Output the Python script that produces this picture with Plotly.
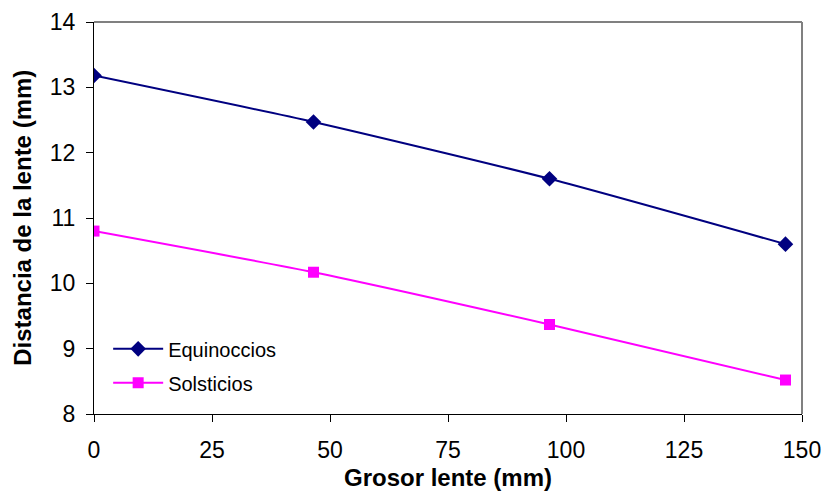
import plotly.graph_objects as go

grosor = [0, 46.5, 96.5, 146.5]
equinoccios = [13.18, 12.47, 11.60, 10.60]
solsticios = [10.80, 10.17, 9.37, 8.52]
x_ticks = [0, 25, 50, 75, 100, 125, 150]
y_ticks = [8, 9, 10, 11, 12, 13, 14]

fig = go.Figure()
fig.add_trace(go.Scatter(
    x=grosor, y=equinoccios, name="Equinoccios", mode="lines+markers",
    legendgroup="a",
    line=dict(color="#000080", width=2, shape="spline", smoothing=0.6),
    marker=dict(symbol="diamond", size=12, color="#000080"),
))
fig.add_trace(go.Scatter(
    x=grosor, y=solsticios, name="Solsticios", mode="lines+markers",
    legendgroup="b",
    line=dict(color="#FF00FF", width=2, shape="spline", smoothing=0.6),
    marker=dict(symbol="square", size=11, color="#FF00FF"),
))

font_family = "Liberation Sans, Arial, sans-serif"
fig.update_layout(
    width=826, height=497,
    margin=dict(l=94, r=24, t=22, b=83, autoexpand=False),
    paper_bgcolor="white", plot_bgcolor="white",
    font=dict(family=font_family, color="black", size=20),
    showlegend=True,
    legend=dict(x=0.02, y=0.216, xanchor="left", yanchor="top",
                bgcolor="rgba(0,0,0,0)", font=dict(size=20),
                traceorder="grouped", tracegroupgap=5, itemwidth=50),
)
fig.update_xaxes(
    range=[0, 150], tickvals=x_ticks, ticks="outside", ticklen=7,
    tickcolor="black", showline=True, linecolor="black", linewidth=1,
    showgrid=False, zeroline=False, mirror=False, automargin=False,
    ticklabelstandoff=8,
    title=dict(text="<b>Grosor lente (mm)</b>", font=dict(size=24), standoff=7),
    tickfont=dict(size=23),
)
fig.update_yaxes(
    range=[8, 14], tickvals=y_ticks, ticks="outside", ticklen=7,
    tickcolor="black", showline=True, linecolor="black", linewidth=1,
    showgrid=False, zeroline=False, automargin=False,
    ticklabelstandoff=6,
    tickfont=dict(size=23),
)
fig.add_annotation(
    text="<b>Distancia de la lente (mm)</b>", textangle=-90,
    xref="paper", yref="paper", x=-0.102, y=0.5,
    xanchor="center", yanchor="middle", showarrow=False,
    font=dict(size=24, family=font_family, color="black"),
)
# gray plot-area border on top and right
fig.add_shape(type="line", xref="paper", yref="paper", x0=0, x1=1, y0=1, y1=1,
              line=dict(color="#808080", width=2))
fig.add_shape(type="line", xref="paper", yref="paper", x0=1, x1=1, y0=0, y1=1,
              line=dict(color="#808080", width=2))

fig.write_html("out.html", config={"displayModeBar": False},
               post_script="document.body.style.margin='0';")
